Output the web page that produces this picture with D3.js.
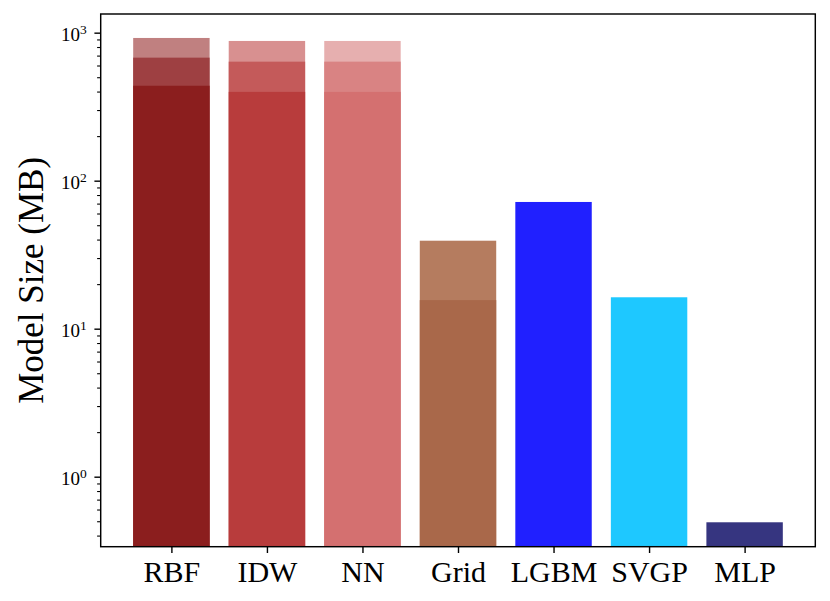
<!DOCTYPE html>
<html><head><meta charset="utf-8">
<script src="https://cdn.jsdelivr.net/npm/d3@7/dist/d3.min.js"></script>
<style>
html,body{margin:0;padding:0;background:#fff;}
svg{display:block;}
text{font-family:"Liberation Serif","DejaVu Serif",serif;fill:#000;}
</style></head>
<body><svg id="chart" width="830" height="601"></svg>
<script>
// ---- data ----
const categories = ["RBF", "IDW", "NN", "Grid", "LGBM", "SVGP", "MLP"];
// total model size (largest layer), MB
const sizeTotal = [921, 879, 879, 39.3, 71.8, 16.3, 0.492];
// intermediate layer, MB
const sizeMid = [678, 637, 637, 15.6, null, null, null];
// smallest layer, MB
const sizeLow = [438, 398, 398, null, null, null, null];
const majorTicks = [1, 10, 100, 1000];
const majorExp = ["0", "1", "2", "3"];
const yLabel = "Model Size (MB)";

// ---- styles ----
const colTotal = ["#C08080", "#D89090", "#E6AFAF", "#B57C5F", "#2020FF", "#1EC8FF", "#363580"];
const colMid = ["#9E4042", "#C45A5A", "#D98383", "#A9684A"];
const colLow = ["#8B1E1E", "#B83C3C", "#D47070"];

const L = 100.7, R = 815.3, T = 14, B = 546.7;
const svg = d3.select("#chart");

const x = d3.scaleLinear().domain([-0.74, categories.length - 1 + 0.74]).range([L, R]);
const y = d3.scaleLog().domain([0.3365, 1337]).range([B, T]);
const bw = x(0.8) - x(0);

function drawLayer(vals, cols) {
  const data = vals.map((v, i) => ({ v, i })).filter(d => d.v != null);
  svg.append("g").selectAll("rect").data(data).join("rect")
    .attr("x", d => x(d.i) - bw / 2)
    .attr("width", bw)
    .attr("y", d => y(d.v))
    .attr("height", d => B - y(d.v))
    .attr("fill", d => cols[d.i]);
}
drawLayer(sizeTotal, colTotal);
drawLayer(sizeMid, colMid);
drawLayer(sizeLow, colLow);

// minor ticks
const minor = [];
for (let e = -1; e <= 3; e++) for (let m = 2; m <= 9; m++) {
  const v = m * Math.pow(10, e);
  if (v >= y.domain()[0] && v <= y.domain()[1]) minor.push(v);
}
const gMinor = svg.append("g").attr("transform", `translate(${L},0)`)
  .call(d3.axisLeft(y).tickValues(minor).tickSize(3.6).tickFormat(""));
gMinor.select(".domain").remove();
gMinor.selectAll("line").attr("stroke", "#000").attr("stroke-width", 1.1);

const gMajor = svg.append("g").attr("transform", `translate(${L},0)`)
  .call(d3.axisLeft(y).tickValues(majorTicks).tickSize(6.3).tickFormat(""));
gMajor.select(".domain").remove();
gMajor.selectAll("line").attr("stroke", "#000").attr("stroke-width", 1.4);
gMajor.selectAll(".tick").each(function (d, i) {
  const t = d3.select(this).append("text")
    .attr("x", -14).attr("y", 8)
    .attr("text-anchor", "end")
    .style("font-size", "19px");
  t.append("tspan").text("10");
  t.append("tspan").attr("dy", -7).style("font-size", "13.5px").text(majorExp[i]);
});
gMajor.selectAll(".tick text").attr("x", -14);
// shift so whole label's right edge is near x = 87
gMajor.selectAll(".tick text").attr("dx", 0);

// x axis
const gx = svg.append("g").attr("transform", `translate(0,${B})`)
  .call(d3.axisBottom(x).tickValues(d3.range(categories.length)).tickSize(6.3)
    .tickFormat(i => categories[i]));
gx.select(".domain").remove();
gx.selectAll("line").attr("stroke", "#000").attr("stroke-width", 1.4);
gx.selectAll("text").attr("y", 35).attr("dy", 0).style("font-size", "30px");

// frame
svg.append("rect").attr("x", L).attr("y", T).attr("width", R - L).attr("height", B - T)
  .attr("fill", "none").attr("stroke", "#000").attr("stroke-width", 1.45);

// y label
svg.append("text")
  .attr("transform", `translate(43,${(T + B) / 2}) rotate(-90)`)
  .attr("text-anchor", "middle")
  .style("font-size", "35px")
  .text(yLabel);
</script></body></html>
